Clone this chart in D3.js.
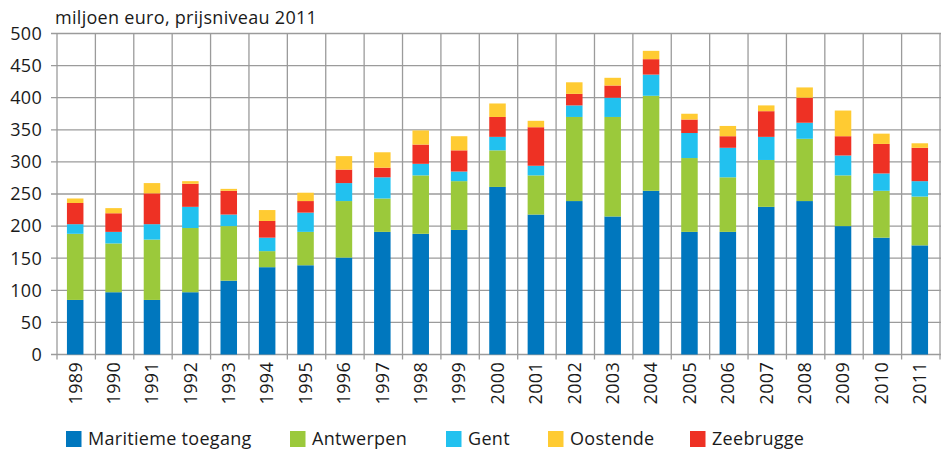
<!DOCTYPE html>
<html>
<head>
<meta charset="utf-8">
<script src="https://cdn.jsdelivr.net/npm/d3@7"></script>
<style>
  body { margin: 0; background: #fff; }
  svg text { font-family: "Open Sans", Lato, sans-serif; fill: #1a1a1a; letter-spacing: 0.3px; }
</style>
</head>
<body>
<div class="chart"></div>
<script>
// data (miljoen euro)
const years = ['1989','1990','1991','1992','1993','1994','1995','1996','1997','1998','1999','2000',
  '2001','2002','2003','2004','2005','2006','2007','2008','2009','2010','2011'];
const maritiem = [85, 97, 85, 97, 115, 136, 139, 151, 191, 188, 194, 261, 218, 239, 215, 255, 191, 191, 230, 239, 200, 182, 170];
const antwerpen = [103, 76, 94, 100, 85, 25, 52, 88, 52, 91, 76, 57, 61, 131, 155, 148, 115, 85, 73, 97, 79, 73, 76];
const gent = [15, 18, 24, 33, 18, 21, 30, 28, 33, 18, 15, 21, 15, 18, 30, 33, 39, 46, 36, 25, 31, 27, 24];
const zeebrugge = [33, 29, 48, 36, 37, 26, 18, 21, 15, 30, 33, 31, 60, 18, 19, 24, 21, 18, 40, 39, 30, 46, 52];
const oostende = [7, 8, 16, 4, 3, 17, 13, 21, 24, 22, 22, 21, 10, 18, 12, 13, 9, 16, 9, 16, 40, 16, 7];
const yTicks = [0, 50, 100, 150, 200, 250, 300, 350, 400, 450, 500];

const series = [
  { key: 'maritiem', name: 'Maritieme toegang', color: '#0077be', values: maritiem },
  { key: 'antwerpen', name: 'Antwerpen', color: '#9bc93b', values: antwerpen },
  { key: 'gent', name: 'Gent', color: '#22c1ef', values: gent },
  { key: 'oostende', name: 'Oostende', color: '#ffcb32', values: oostende },
  { key: 'zeebrugge', name: 'Zeebrugge', color: '#ee3124', values: zeebrugge }
];
// stacking order in the bars differs from the legend order
const stackOrder = ['maritiem', 'antwerpen', 'gent', 'zeebrugge', 'oostende'];
const color = {};
series.forEach(s => color[s.key] = s.color);

const width = 941, height = 452;
const plotLeft = 57, plotRight = 940, plotTop = 33.5, plotBottom = 354.5;
const fontSize = '18px';

const rows = years.map((y, i) => {
  const r = { year: y };
  series.forEach(s => r[s.key] = s.values[i]);
  return r;
});

const svg = d3.select('.chart').append('svg')
  .attr('width', width)
  .attr('height', height);

const x = d3.scaleBand().domain(years).range([plotLeft, plotRight])
  .paddingInner(0.57).paddingOuter(0.285);
const y = d3.scaleLinear().domain([0, 500]).range([plotBottom, plotTop]);
const step = x.step();

const grid = svg.append('g')
  .attr('stroke', '#9b9b9b')
  .attr('stroke-width', 1.3);

grid.selectAll('.h')
  .data(yTicks)
  .enter().append('line')
  .attr('x1', plotLeft - 6).attr('x2', plotRight + 1)
  .attr('y1', d => y(d)).attr('y2', d => y(d));

grid.selectAll('.v')
  .data(d3.range(years.length + 1))
  .enter().append('line')
  .attr('x1', i => plotLeft + i * step).attr('x2', i => plotLeft + i * step)
  .attr('y1', plotTop).attr('y2', plotBottom + 5);

svg.append('g').selectAll('text')
  .data(yTicks)
  .enter().append('text')
  .attr('x', 42)
  .attr('y', d => y(d))
  .attr('dy', '0.35em')
  .attr('text-anchor', 'end')
  .style('font-size', fontSize)
  .text(d => d);

const stacked = d3.stack().keys(stackOrder)(rows);

svg.append('g').selectAll('g')
  .data(stacked)
  .enter().append('g')
  .attr('fill', d => color[d.key])
  .selectAll('rect')
  .data(d => d)
  .enter().append('rect')
  .attr('x', d => x(d.data.year) - 1)
  .attr('width', x.bandwidth())
  .attr('y', d => y(d[1]))
  .attr('height', d => y(d[0]) - y(d[1]));

svg.append('g').selectAll('text')
  .data(years)
  .enter().append('text')
  .attr('transform', d => 'translate(' + (x(d) - 1 + x.bandwidth() / 2) + ',362) rotate(-90)')
  .attr('dy', '0.35em')
  .attr('text-anchor', 'end')
  .style('font-size', fontSize)
  .text(d => d);

svg.append('text')
  .attr('x', 55)
  .attr('y', 24)
  .style('font-size', fontSize)
  .text('miljoen euro, prijsniveau 2011');

const legendX = [66, 290, 446, 548, 690];
const legend = svg.append('g').selectAll('g')
  .data(series)
  .enter().append('g')
  .attr('transform', (d, i) => 'translate(' + legendX[i] + ',431)');

legend.append('rect')
  .attr('width', 15.5)
  .attr('height', 16)
  .attr('fill', d => d.color);

legend.append('text')
  .attr('x', 22)
  .attr('y', 8)
  .attr('dy', '0.35em')
  .style('font-size', fontSize)
  .text(d => d.name);
</script>
</body>
</html>
